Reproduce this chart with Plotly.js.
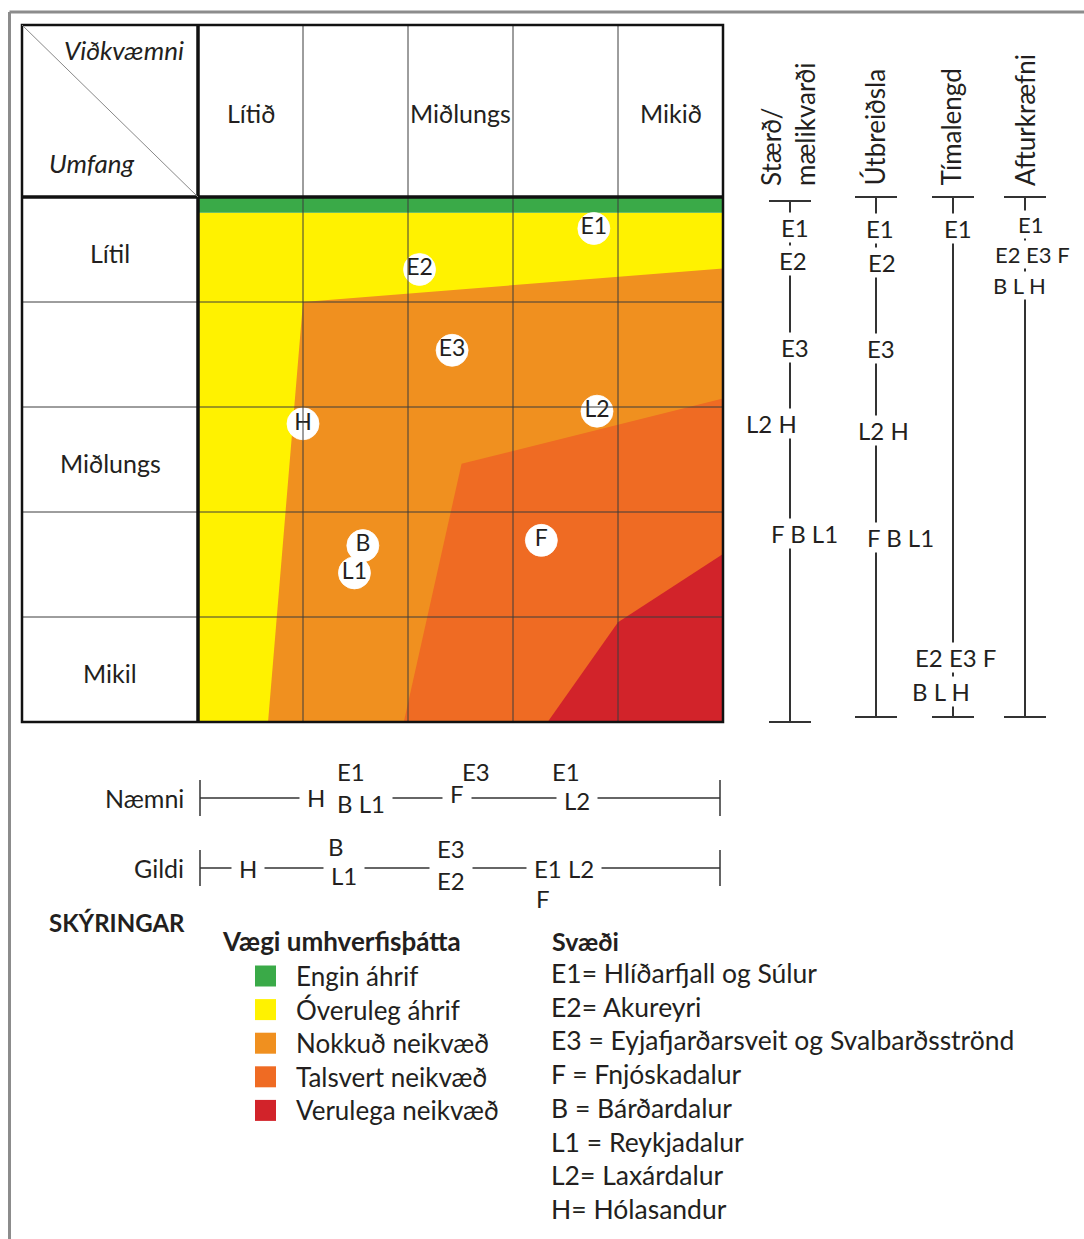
<!DOCTYPE html>
<html><head><meta charset="utf-8">
<script src="https://cdn.plot.ly/plotly-3.0.1.min.js"></script>
<style>html,body{margin:0;padding:0;background:#fff;}#chart{width:1084px;height:1239px;}</style>
</head><body><div id="chart"></div>
<script>
// ================= DATA =================
// Matrix axes (units: one grid cell = 1)
const sensitivityLabels = ['Lítið', 'Miðlungs', 'Mikið'];      // Viðkvæmni (columns)
const sensitivityPos = [0.5, 2.5, 4.5];
const extentLabels = ['Lítil', 'Miðlungs', 'Mikil'];            // Umfang (rows)
const extentPos = [0.5, 2.5, 4.5];
const gridLines = [1, 2, 3, 4];
const gridMax = 5;

// Impact zones (polygon boundaries in matrix units)
const zoneNames = ['Engin áhrif', 'Óveruleg áhrif', 'Nokkuð neikvæð', 'Talsvert neikvæð', 'Verulega neikvæð'];
const enginX = [0, 5, 5, 0];            const enginY = [0, 0, 0.15, 0.15];
const overulegX = [0, 5, 5, 0];         const overulegY = [0.15, 0.15, 5, 5];
const nokkudX = [1.0, 5, 5, 0.667];     const nokkudY = [1.0, 0.68, 5, 5];
const talsvertX = [2.51, 5, 5, 1.96];   const talsvertY = [2.54, 1.92, 5, 5];
const verulegaX = [4.0, 5, 5, 3.33];    const verulegaY = [4.05, 3.40, 5, 5];

// Regions placed in the matrix
const regionCodes  = ['E1', 'E2', 'E3', 'L2', 'H', 'L1', 'B', 'F'];
const regionSens   = [3.77, 2.11, 2.42, 3.80, 1.00, 1.49, 1.57, 3.27];
const regionExtent = [0.30, 0.69, 1.46, 2.04, 2.16, 3.58, 3.32, 3.27];

// Criteria scales (right side), values along the Umfang axis
const scaleTitles = ['Stærð/<br>mælikvarði', 'Útbreiðsla', 'Tímalengd', 'Afturkræfni'];
const staerdLabels = ['E1', 'E2', 'E3', 'L2 H', 'F B L1'];
const staerdValues = [0.29, 0.60, 1.43, 2.16, 3.20];
const utbreidslaLabels = ['E1', 'E2', 'E3', 'L2 H', 'F B L1'];
const utbreidslaValues = [0.30, 0.62, 1.44, 2.22, 3.24];
const timalengdLabels = ['E1', 'E2 E3 F', 'B L H'];
const timalengdValues = [0.30, 4.39, 4.71];
const afturkraefniLabels = ['E1', 'E2 E3 F', 'B L H'];
const afturkraefniValues = [0.26, 0.55, 0.84];

// Bottom scales, values along the Viðkvæmni axis
const bottomScaleTitles = ['Næmni', 'Gildi'];
const naemniLabels = ['H', 'E1', 'B L1', 'F', 'E3', 'E1', 'L2'];
const naemniValues = [1.12, 1.46, 1.55, 2.47, 2.65, 3.50, 3.61];
const gildiLabels = ['H', 'B', 'L1', 'E3', 'E2', 'E1 L2', 'F'];
const gildiValues = [0.48, 1.31, 1.39, 2.41, 2.41, 3.49, 3.29];

// Key texts
const legendTitle = 'SKÝRINGAR';
const zoneLegendTitle = 'Vægi umhverfisþátta';
const regionKeyTitle = 'Svæði';
const regionKeyTexts = ['E1= Hlíðarfjall og Súlur', 'E2= Akureyri', 'E3 = Eyjafjarðarsveit og Svalbarðsströnd',
  'F = Fnjóskadalur', 'B = Bárðardalur', 'L1 = Reykjadalur', 'L2= Laxárdalur', 'H= Hólasandur'];

// ================= STYLE / LAYOUT =================
const zoneColors = ['#3aaa48', '#fff200', '#f0901f', '#ef6b23', '#d2232a'];
const FONT = 'Lato, Carlito, "Open Sans", sans-serif';
const INK = '#231f20';
const FS = 25;                                      // base font size
const W = 1084, H = 1239;
const PX = 105, X0 = 198, Y0 = 197;                 // pixel size of one cell and matrix origin
const ux = p => (p - X0) / PX;
const vy = p => (p - Y0) / PX;

// offsets (px) of labels on the scales
const staerdDx = [5, 3, 5, -19, 14];
const utbreidslaDx = [4, 6, 5, 7, 24];
const timalengdDx = [5, 2, -12];
const afturkraefniDx = [5, 7, -6];
const scaleLineX = [790, 876, 953, 1025];
const scaleTop = [201, 197, 197, 197];
const scaleBottom = [722, 717, 717, 717];
const naemniDy = [-1, -27, 5, -5, -27, -27, 2];
const naemniCut = [1, 0, 1, 1, 0, 0, 1];           // label interrupts the line
const gildiDy = [0, -22, 7, -20, 12, 0, 30];
const gildiCut = [1, 0, 1, 0, 1, 1, 0];
const bottomLineY = [798, 868];

// ================= TRACES =================
const zoneXs = [enginX, overulegX, nokkudX, talsvertX, verulegaX];
const zoneYs = [enginY, overulegY, nokkudY, talsvertY, verulegaY];
const drawOrder = [1, 0, 2, 3, 4];
const traces = drawOrder.map(i => ({
  type: 'scatter', mode: 'lines', x: zoneXs[i], y: zoneYs[i], fill: 'toself',
  fillcolor: zoneColors[i], line: {width: 0, color: zoneColors[i]}, name: zoneNames[i], hoverinfo: 'skip'
}));
traces.push({
  type: 'scatter', mode: 'markers+text', x: regionSens, y: regionExtent, text: regionCodes,
  textposition: 'middle center', textfont: {family: FONT, size: 23, color: INK},
  marker: {size: 32, color: '#ffffff', line: {width: 1, color: 'rgba(255,255,255,0.8)'}}, hoverinfo: 'skip'
});

// ================= SHAPES =================
const shapes = [];
function ln(x0, y0, x1, y1, color, width) {
  shapes.push({type: 'line', xref: 'x', yref: 'y', x0, y0, x1, y1, line: {color, width}, layer: 'above'});
}
// grid inside matrix and header
gridLines.forEach(k => {
  ln(k, vy(25), k, gridMax, '#3c3c3c', 1);
  ln(ux(22), k, gridMax, k, '#3c3c3c', 1);
});
// frame
shapes.push({type: 'rect', xref: 'x', yref: 'y', x0: ux(22), y0: vy(25), x1: gridMax, y1: gridMax,
  line: {color: '#111', width: 2.5}, layer: 'above'});
ln(0, vy(25), 0, gridMax, '#111', 3.5);
ln(ux(22), 0, gridMax, 0, '#111', 3.5);
ln(ux(22), vy(25), 0, 0, '#888', 1);
// page border
ln(ux(9.5), vy(12), ux(9.5), vy(H), '#8c8c8c', 3);
ln(ux(9.5), vy(12), ux(W), vy(12), '#8c8c8c', 3);

// vertical scales
scaleLineX.forEach((px, i) => {
  ln(ux(px), vy(scaleTop[i]), ux(px), vy(scaleBottom[i]), '#333', 2);
  ln(ux(px - 21), vy(scaleTop[i]), ux(px + 21), vy(scaleTop[i]), '#333', 2);
  ln(ux(px - 21), vy(scaleBottom[i]), ux(px + 21), vy(scaleBottom[i]), '#333', 2);
});
// horizontal scales
bottomLineY.forEach(py => {
  ln(ux(200), vy(py), ux(720), vy(py), '#333', 1.5);
  ln(ux(200), vy(py - 18), ux(200), vy(py + 18), '#333', 1.5);
  ln(ux(720), vy(py - 18), ux(720), vy(py + 18), '#333', 1.5);
});
// legend squares
zoneColors.forEach((c, i) => {
  const cy = 976 + i * 33.6;
  shapes.push({type: 'rect', xref: 'x', yref: 'y', x0: ux(255), x1: ux(276), y0: vy(cy - 10.5), y1: vy(cy + 10.5),
    fillcolor: c, line: {width: 0}, layer: 'above'});
});

// ================= ANNOTATIONS =================
const ann = [];
function txt(x, y, text, opt = {}) {
  ann.push(Object.assign({x, y, xref: 'x', yref: 'y', text, showarrow: false,
    font: {family: FONT, size: opt.size || FS, color: INK}, xanchor: 'center', yanchor: 'middle'}, opt.extra || {}));
}
// header
sensitivityLabels.forEach((t, i) => txt(sensitivityPos[i], vy(113), t));
extentLabels.forEach((t, i) => txt(ux(110), extentPos[i], t, {extra: {yshift: -3}}));
txt(ux(124), vy(50), '<i>Viðkvæmni</i>', {size: 26});
txt(ux(92), vy(163), '<i>Umfang</i>', {size: 26});

// scale titles (rotated)
const titleX = [788, 874, 950, 1025];
scaleTitles.forEach((t, i) => {
  ann.push({x: ux(titleX[i]), y: vy(188), xref: 'x', yref: 'y', text: t, showarrow: false, textangle: -90,
    align: 'left', xanchor: 'center', yanchor: 'bottom',
    font: {family: FONT, size: 26, color: INK}});
});
function scaleLabels(labels, values, dx, lineX, size) {
  labels.forEach((t, i) => ann.push({x: ux(lineX), y: values[i], xref: 'x', yref: 'y', xshift: dx[i], text: t,
    showarrow: false, bgcolor: '#ffffff', borderpad: 0, xanchor: 'center', yanchor: 'middle',
    font: {family: FONT, size: size, color: INK}}));
}
scaleLabels(staerdLabels, staerdValues, staerdDx, scaleLineX[0], 24);
scaleLabels(utbreidslaLabels, utbreidslaValues, utbreidslaDx, scaleLineX[1], 24);
scaleLabels(timalengdLabels, timalengdValues, timalengdDx, scaleLineX[2], 24);
scaleLabels(afturkraefniLabels, afturkraefniValues, afturkraefniDx, scaleLineX[3], 22);

// labels that cut the line are drawn first (white box), the others on top of them
function bottomLabels(labels, values, dy, cut, lineY) {
  [1, 0].forEach(pass => labels.forEach((t, i) => {
    if (cut[i] !== pass) return;
    ann.push({x: values[i], y: vy(lineY), xref: 'x', yref: 'y', yshift: -dy[i], text: t,
      showarrow: false, bgcolor: cut[i] ? '#ffffff' : 'rgba(0,0,0,0)', borderpad: cut[i] ? 7 : 0,
      xanchor: 'center', yanchor: 'middle', font: {family: FONT, size: 24, color: INK}});
  }));
}
bottomLabels(naemniLabels, naemniValues, naemniDy, naemniCut, bottomLineY[0]);
bottomLabels(gildiLabels, gildiValues, gildiDy, gildiCut, bottomLineY[1]);
txt(ux(186), vy(798), bottomScaleTitles[0], {extra: {xanchor: 'right'}});
txt(ux(186), vy(868), bottomScaleTitles[1], {extra: {xanchor: 'right'}});

// key
txt(ux(47), vy(922), '<b>' + legendTitle + '</b>', {size: 24, extra: {xanchor: 'left'}});
txt(ux(220), vy(941), '<b>' + zoneLegendTitle + '</b>', {size: 26, extra: {xanchor: 'left'}});
zoneNames.forEach((t, i) => txt(ux(294), vy(976 + i * 33.6), t, {size: 26, extra: {xanchor: 'left'}}));
txt(ux(550), vy(941), '<b>' + regionKeyTitle + '</b>', {size: 25, extra: {xanchor: 'left'}});
regionKeyTexts.forEach((t, i) => txt(ux(549), vy(973 + i * 33.7), t, {size: 26.5, extra: {xanchor: 'left'}}));

const layout = {
  width: W, height: H, margin: {l: 0, r: 0, t: 0, b: 0},
  paper_bgcolor: '#ffffff', plot_bgcolor: '#ffffff', showlegend: false, hovermode: false,
  xaxis: {range: [ux(0), ux(W)], visible: false, fixedrange: true},
  yaxis: {range: [vy(H), vy(0)], visible: false, fixedrange: true},
  shapes, annotations: ann
};
Plotly.newPlot('chart', traces, layout, {staticPlot: true, displayModeBar: false});
</script></body></html>
